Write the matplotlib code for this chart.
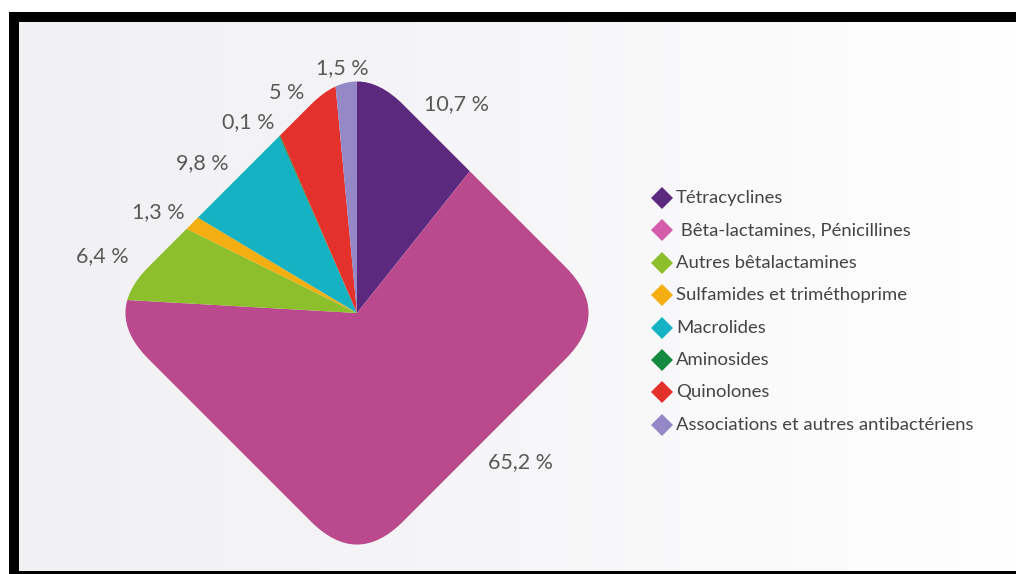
import numpy as np
import matplotlib
matplotlib.use("Agg")
import matplotlib.pyplot as plt
from matplotlib.patches import FancyBboxPatch, Rectangle
from matplotlib.transforms import Affine2D
from matplotlib.colors import LinearSegmentedColormap

# ------------------------------------------------------------
# data
categories = ["Tétracyclines", " Bêta-lactamines, Pénicillines",
              "Autres bêtalactamines", "Sulfamides et triméthoprime",
              "Macrolides", "Aminosides", "Quinolones",
              "Associations et autres antibactériens"]
shares = [10.7, 65.2, 6.4, 1.3, 9.8, 0.1, 5.0, 1.5]
share_labels = ["10,7 %", "65,2 %", "6,4 %", "1,3 %", "9,8 %", "0,1 %", "5 %", "1,5 %"]

pie_colors    = ["#5B2A7E", "#BA4A8D", "#8DBE2B", "#F4AE12",
                 "#14B2C2", "#138A3E", "#E4312B", "#9488C6"]
legend_colors = ["#5B2A7E", "#D45CAA", "#8DBE2B", "#F4AE12",
                 "#14B2C2", "#138A3E", "#E4312B", "#9488C6"]

# ------------------------------------------------------------
# layout (pixel-like units, y going up)
W, H = 1016, 574
CX, CY = 357, 261          # pie centre
HALF = 180                 # half side of the (unrotated) square
ROUND = 65                 # corner rounding
# where each percentage sits (image coords, y down)
label_xy = [(456, 104), (521, 462), (102, 256), (158, 212),
            (202, 163), (248, 122), (287, 93), (342, 68)]
LEG_X, LEG_Y0, LEG_DY = 662, 198, 32.4

FONT = "Lato"
TXT = "#595959"

fig = plt.figure(figsize=(W / 100, H / 100), dpi=100)
ax = fig.add_axes([0, 0, 1, 1])

# pie, clipped by a rounded diamond
wedges, _ = ax.pie(shares, colors=pie_colors, startangle=90, counterclock=False,
                   radius=320, center=(CX, CY), frame=True,
                   wedgeprops=dict(linewidth=0))
ax.set_aspect("auto")
ax.axis("off")

# frame: black border + light gradient panel
ax.add_patch(Rectangle((9, 0), W, H - 12, facecolor="black",
                       edgecolor="none", zorder=0))
grad = LinearSegmentedColormap.from_list("bg", ["#F1F1F4", "#F6F6F8", "#FFFFFF"])
ax.imshow(np.linspace(0, 1, 256)[None, :], cmap=grad, aspect="auto",
          extent=(19, W, 3, H - 22), zorder=0.5)
ax.set_xlim(0, W)
ax.set_ylim(0, H)

clip = FancyBboxPatch((CX - HALF, CY - HALF), 2 * HALF, 2 * HALF,
                      boxstyle=f"round,pad=0,rounding_size={ROUND}",
                      transform=Affine2D().rotate_deg_around(CX, CY, 45) + ax.transData,
                      facecolor="none", edgecolor="none")
ax.add_patch(clip)
for w in wedges:
    w.set_zorder(2)
    w.set_clip_on(True)   # pie turns clipping off by default
    w.set_clip_path(clip)

for lab, (x, y) in zip(share_labels, label_xy):
    ax.text(x, H - y, lab, ha="center", va="center", fontsize=15.5,
            color=TXT, family=FONT, zorder=3)

# legend
for i, (name, col) in enumerate(zip(categories, legend_colors)):
    y = H - (LEG_Y0 + i * LEG_DY)
    ax.plot(LEG_X, y, marker="D", markersize=11, color=col,
            markeredgewidth=0, zorder=3)
    ax.text(LEG_X + 14, y, name, ha="left", va="center", fontsize=13.3,
            color="#444444", family=FONT, zorder=3)

fig.savefig("out.png", dpi=100)
